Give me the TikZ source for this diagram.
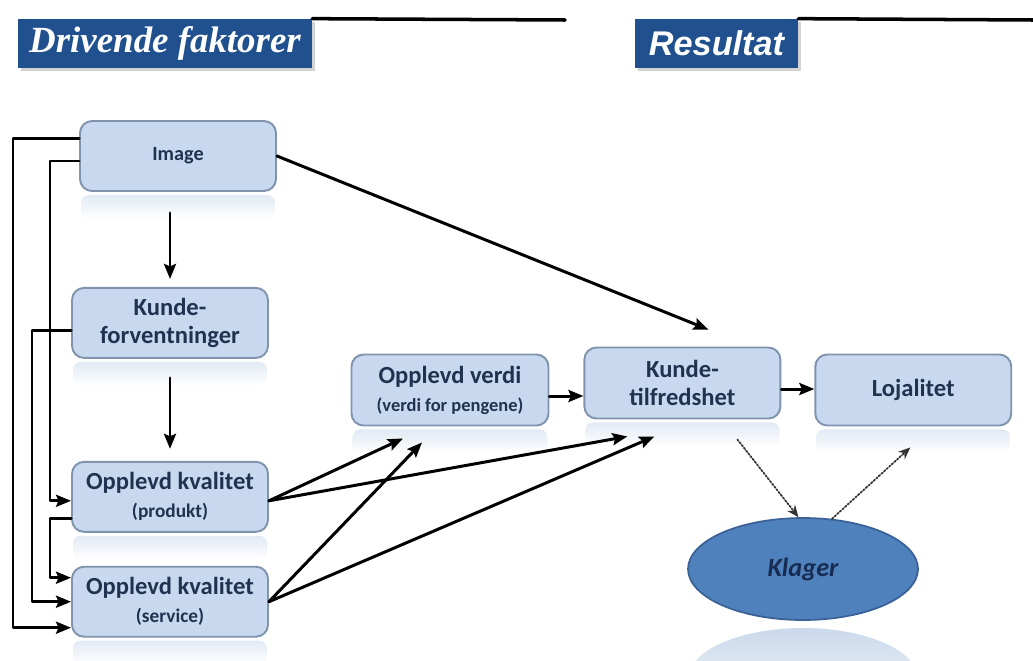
\documentclass[tikz,border=0pt]{standalone}
\usepackage{fontspec}
\setmainfont{Carlito}
\newfontfamily\headserif{Liberation Serif}
\newfontfamily\headsans{Liberation Sans}
\usepackage{tikz}
\usetikzlibrary{arrows.meta,positioning,calc,shapes.geometric,shadows}
\definecolor{headblue}{HTML}{21508F}
\definecolor{boxfill}{HTML}{C8D9EF}
\definecolor{boxdraw}{HTML}{8194AE}
\definecolor{ink}{HTML}{1F3350}
\definecolor{reflect}{HTML}{E2EAF4}
\definecolor{klagerfill}{HTML}{4F81BD}
\definecolor{klagerdraw}{HTML}{3A6297}
\definecolor{klagerink}{HTML}{172C52}
\newcommand{\sublabel}[1]{{\fontsize{11}{13}\selectfont #1}}
\tikzset{
    every picture/.style={line cap=round,line join=round},
    factorbox/.style={draw=boxdraw,fill=boxfill,line width=1.1pt,rounded corners=2.4mm,
      minimum width=3.92cm,minimum height=1.4cm,inner sep=2pt,text=ink,
      font=\fontsize{14}{16}\selectfont\bfseries,align=center},
    headbox/.style={fill=headblue,text=white,minimum height=0.98cm,inner sep=0pt,
      drop shadow={shadow xshift=0.06cm,shadow yshift=-0.06cm,opacity=0.35}},
    headrule/.style={line width=2pt,draw=black},
    complaint/.style={ellipse,draw=klagerdraw,fill=klagerfill,line width=1pt,
      minimum width=4.6cm,minimum height=2.04cm,text=klagerink,
      font=\fontsize{15}{17}\selectfont\bfseries\itshape},
    flowarrow/.style={-{Stealth[length=3mm,width=2.4mm,inset=0.5mm]},draw=black,line width=1.7pt},
    hintarrow/.style={-{Stealth[length=2.4mm,width=2mm]},draw=black!80,
      densely dotted,line width=1pt}
}

\begin{document}
\begin{tikzpicture}[x=0.02cm,y=-0.02cm]
  \useasboundingbox (0,0) rectangle (1033,660);

  % headings
  \node[headbox,minimum width=5.88cm,font=\headserif\bfseries\itshape\fontsize{21}{24}\selectfont]
    (drive) at (165,43.5) {Drivende faktorer};
  \node[headbox,minimum width=3.26cm,font=\headsans\bfseries\itshape\fontsize{19.5}{22}\selectfont]
    (result) at (716.5,43.5) {Resultat};
  \coordinate (ruleEndA) at (565,20);
  \coordinate (ruleEndB) at (1033,20);
  \draw[headrule] (drive.north east) -- (ruleEndA);
  \draw[headrule] (result.north east) -- (ruleEndB);

  % driving factors
  \node[factorbox,font=\fontsize{11.5}{13}\selectfont\bfseries] (image) at (178,156) {Image};
  \node[factorbox,below=1.9cm of image,xshift=-0.16cm] (forv) {Kunde-\\forventninger};
  \node[factorbox,below=2.04cm of forv] (prod) {Opplevd kvalitet\\\sublabel{(produkt)}};
  \node[factorbox,below=0.66cm of prod] (serv) {Opplevd kvalitet\\\sublabel{(service)}};

  % results
  \node[factorbox,minimum width=3.94cm,minimum height=1.42cm] (verdi) at (450,390)
    {Opplevd verdi\\{\fontsize{10.5}{12}\selectfont(verdi for pengene)}};
  \node[factorbox,minimum height=1.42cm,right=0.68cm of verdi,yshift=0.14cm] (tilf)
    {Kunde-\\tilfredshet};
  \node[factorbox,minimum height=1.42cm,right=0.66cm of tilf,yshift=-0.14cm] (loj) {Lojalitet};
  \node[complaint] (klager) at (803,569) {Klager};

  % reflections
  \foreach \n in {image,forv,prod,serv,verdi,tilf,loj}
    \shade[top color=reflect,bottom color=white,rounded corners=1.5mm]
      ($(\n.south west)+(2,3)$) rectangle ($(\n.south east)+(-2,27)$);
  \begin{scope}
    \clip (680,628) rectangle (930,660);
    \shade[top color=klagerfill!30,bottom color=white] (803,679) ellipse [x radius=2.3cm,y radius=1.02cm];
  \end{scope}

  % free arrow ends
  \coordinate (tilfIn) at ($(tilf.north)+(26,-17)$);
  \coordinate (verdiA) at ($(verdi.south)+(-47,12)$);
  \coordinate (verdiB) at ($(verdi.south)+(-28,16)$);
  \coordinate (tilfA) at ($(tilf.south)+(-55,17)$);
  \coordinate (tilfB) at ($(tilf.south)+(-28,17)$);
  \coordinate (tilfOut) at ($(tilf.south)+(55,20)$);
  \coordinate (lojIn) at ($(loj.south)+(-3,21)$);
  \coordinate (railA) at (13,0);
  \coordinate (railB) at (32,0);
  \coordinate (railC) at (50,0);

  % down the left column
  \draw[flowarrow,shorten <=0.42cm,shorten >=0.16cm] (image.south -| forv.north) -- (forv.north);
  \draw[flowarrow,shorten <=0.38cm,shorten >=0.24cm] (forv.south) -- (prod.north);

  % feedback rails
  \draw[flowarrow] ([yshift=0.36cm]image.west) -- ([yshift=0.36cm]image.west -| railA)
    -- ([yshift=-0.52cm]serv.west -| railA) -- ([yshift=-0.52cm]serv.west);
  \draw[flowarrow] ([yshift=-0.1cm]image.west) -- ([yshift=-0.1cm]image.west -| railC)
    -- ([yshift=-0.08cm]prod.west -| railC) -- ([yshift=-0.08cm]prod.west);
  \draw[flowarrow] ([yshift=-0.16cm]forv.west) -- ([yshift=-0.16cm]forv.west -| railB)
    -- (serv.west -| railB) -- (serv.west);
  \draw[flowarrow] ([yshift=-0.44cm]prod.west) -- ([yshift=-0.44cm]prod.west -| railC)
    -- ([yshift=0.48cm]serv.west -| railC) -- ([yshift=0.48cm]serv.west);

  % into value and satisfaction
  \draw[flowarrow] (image.east) -- (tilfIn);
  \draw[flowarrow] ([yshift=-0.08cm]prod.east) -- (verdiA);
  \draw[flowarrow] ([yshift=-0.08cm]prod.east) -- (tilfA);
  \draw[flowarrow] (serv.east) -- (verdiB);
  \draw[flowarrow] (serv.east) -- (tilfB);
  \draw[flowarrow] ([yshift=-0.12cm]verdi.east) -- ([yshift=-0.12cm]verdi.east -| tilf.west);
  \draw[flowarrow] ([yshift=-0.12cm]tilf.east) -- ([yshift=-0.12cm]tilf.east -| loj.west);

  % complaints
  \draw[hintarrow] (tilfOut) -- (klager.95);
  \draw[hintarrow] (klager.60) -- (lojIn);
\end{tikzpicture}
\end{document}
